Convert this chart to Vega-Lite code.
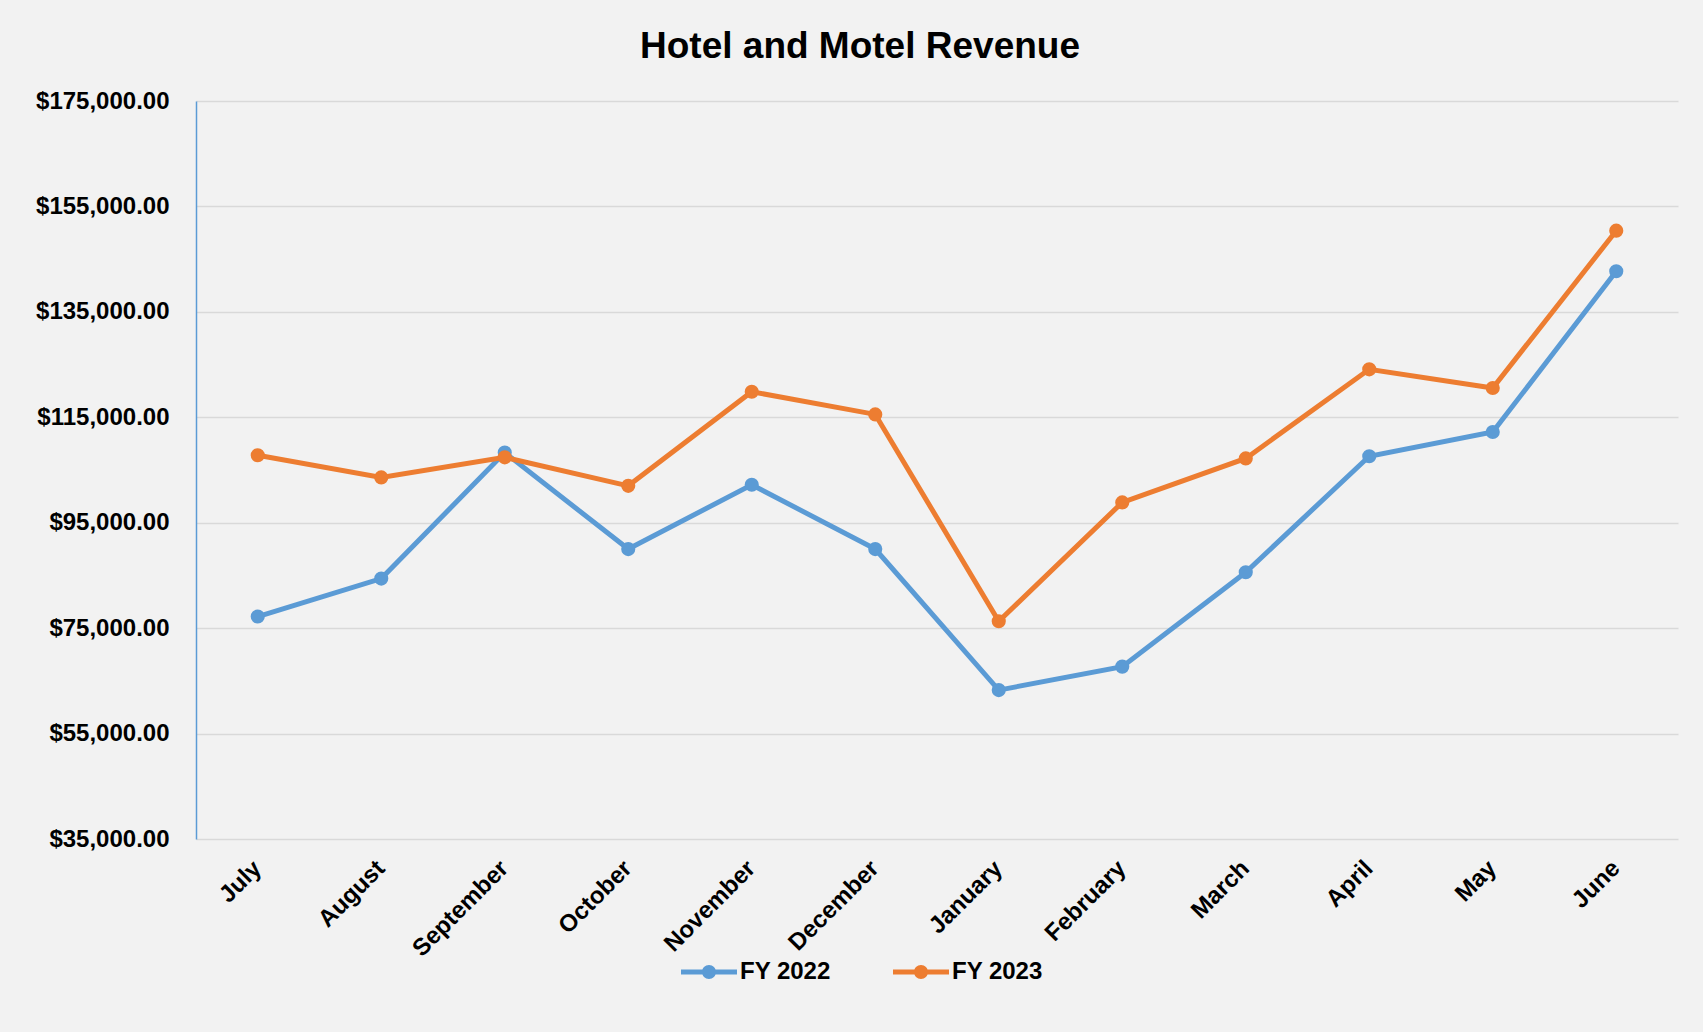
{
  "$schema": "https://vega.github.io/schema/vega-lite/v6.json",
  "autosize": "none",
  "width": 1482,
  "height": 738,
  "padding": {"left": 196, "top": 101, "right": 25, "bottom": 193},
  "background": "#f2f2f2",
  "title": {
    "text": "Hotel and Motel Revenue",
    "font": "Liberation Sans",
    "fontSize": 37,
    "fontWeight": "bold",
    "color": "#000000",
    "anchor": "middle",
    "dx": -77,
    "offset": -6,
    "baseline": "alphabetic"
  },
  "config": {
    "view": {"stroke": null},
    "font": "Liberation Sans"
  },
  "data": {
    "values": [
      {"month": "July", "series": "FY 2022", "revenue": 77200},
      {"month": "August", "series": "FY 2022", "revenue": 84400},
      {"month": "September", "series": "FY 2022", "revenue": 108300},
      {"month": "October", "series": "FY 2022", "revenue": 90000},
      {"month": "November", "series": "FY 2022", "revenue": 102200},
      {"month": "December", "series": "FY 2022", "revenue": 90000},
      {"month": "January", "series": "FY 2022", "revenue": 63250},
      {"month": "February", "series": "FY 2022", "revenue": 67700},
      {"month": "March", "series": "FY 2022", "revenue": 85600},
      {"month": "April", "series": "FY 2022", "revenue": 107600},
      {"month": "May", "series": "FY 2022", "revenue": 112200},
      {"month": "June", "series": "FY 2022", "revenue": 142700},
      {"month": "July", "series": "FY 2023", "revenue": 107800},
      {"month": "August", "series": "FY 2023", "revenue": 103600},
      {"month": "September", "series": "FY 2023", "revenue": 107400},
      {"month": "October", "series": "FY 2023", "revenue": 102000},
      {"month": "November", "series": "FY 2023", "revenue": 119850},
      {"month": "December", "series": "FY 2023", "revenue": 115550},
      {"month": "January", "series": "FY 2023", "revenue": 76300},
      {"month": "February", "series": "FY 2023", "revenue": 98850},
      {"month": "March", "series": "FY 2023", "revenue": 107200},
      {"month": "April", "series": "FY 2023", "revenue": 124100},
      {"month": "May", "series": "FY 2023", "revenue": 120550},
      {"month": "June", "series": "FY 2023", "revenue": 150400}
    ]
  },
  "encoding": {
    "x": {
      "field": "month",
      "type": "nominal",
      "sort": ["July", "August", "September", "October", "November", "December", "January", "February", "March", "April", "May", "June"],
      "scale": {"type": "point", "padding": 0.5},
      "axis": {
        "title": null,
        "domain": false,
        "ticks": false,
        "grid": false,
        "labelAngle": -45,
        "labelAlign": "right",
        "labelBaseline": "top",
        "labelPadding": 17,
        "labelOffset": -9,
        "labelFont": "Liberation Sans",
        "labelFontSize": 24,
        "labelFontWeight": "bold",
        "labelColor": "#000000"
      }
    },
    "y": {
      "field": "revenue",
      "type": "quantitative",
      "scale": {"domain": [35000, 175000], "nice": false, "zero": false},
      "axis": {
        "title": null,
        "values": [35000, 55000, 75000, 95000, 115000, 135000, 155000, 175000],
        "format": "$,.2f",
        "domain": true,
        "domainColor": "#5b9bd5",
        "domainWidth": 1.5,
        "ticks": false,
        "grid": true,
        "gridColor": "#d9d9d9",
        "gridWidth": 1.5,
        "labelPadding": 27,
        "labelFont": "Liberation Sans",
        "labelFontSize": 24,
        "labelFontWeight": "bold",
        "labelColor": "#000000"
      }
    },
    "color": {
      "field": "series",
      "type": "nominal",
      "scale": {"domain": ["FY 2022", "FY 2023"], "range": ["#5b9bd5", "#ed7d31"]},
      "legend": {
        "title": null,
        "orient": "none",
        "direction": "horizontal",
        "legendX": 485,
        "legendY": 843,
        "symbolType": "M -1 -0.09 H 1 V 0.09 H -1 Z M 0.25 0 A 0.25 0.25 0 1 1 -0.25 0 A 0.25 0.25 0 1 1 0.25 0 Z",
        "symbolSize": 3136,
        "symbolStrokeWidth": 0,
        "labelOffset": 3,
        "columnPadding": 62,
        "labelFont": "Liberation Sans",
        "labelFontSize": 24,
        "labelFontWeight": "bold",
        "labelColor": "#000000",
        "encode": {
          "symbols": {
            "update": {
              "fill": {"scale": "color", "field": "value"},
              "stroke": {"value": "transparent"},
              "opacity": {"value": 1}
            }
          }
        }
      }
    }
  },
  "layer": [
    {"mark": {"type": "line", "strokeWidth": 5}},
    {"mark": {"type": "point", "filled": true, "size": 200, "opacity": 1}}
  ]
}
